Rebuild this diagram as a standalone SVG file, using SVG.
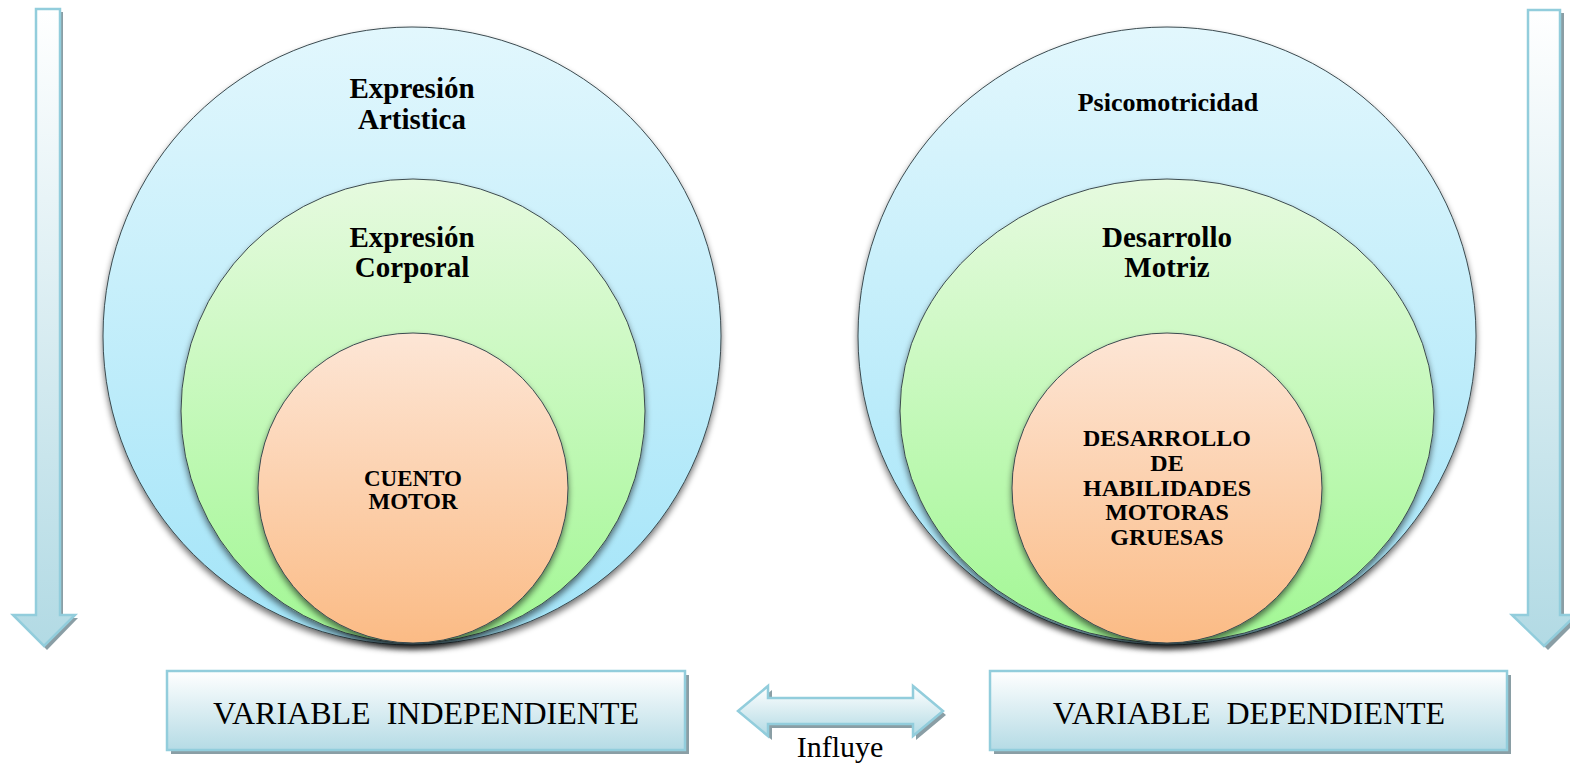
<svg xmlns="http://www.w3.org/2000/svg" width="1570" height="765" viewBox="0 0 1570 765">
<style>
.big{font-family:"Liberation Serif","Times New Roman",serif;font-weight:bold;font-size:29px;fill:#000;text-anchor:middle}
.mid{font-family:"Liberation Serif","Times New Roman",serif;font-weight:bold;font-size:24px;fill:#000;text-anchor:middle}
.lbl{font-family:"Liberation Serif","Times New Roman",serif;font-size:32px;fill:#000;text-anchor:middle}
.ring{stroke:#3b4a4f;stroke-width:1}
.frame{fill:url(#gBox);stroke:#92cddc;stroke-width:2.5}
.arr{fill:url(#gArr);stroke:#92cddc;stroke-width:2.5}
.shd{fill:#8a9ea5}
</style>
<defs>
<linearGradient id="gBlue" x1="0" y1="0" x2="0" y2="1"><stop offset="0" stop-color="#e2f7fd"/><stop offset="1" stop-color="#a2e4f8"/></linearGradient>
<linearGradient id="gGreen" x1="0" y1="0" x2="0" y2="1"><stop offset="0" stop-color="#e6fadf"/><stop offset="1" stop-color="#a2f794"/></linearGradient>
<linearGradient id="gOrange" x1="0" y1="0" x2="0" y2="1"><stop offset="0" stop-color="#fde6d6"/><stop offset="1" stop-color="#fbbb85"/></linearGradient>
<linearGradient id="gArr" x1="0" y1="0" x2="0" y2="1"><stop offset="0" stop-color="#ffffff"/><stop offset="1" stop-color="#b2dae4"/></linearGradient>
<linearGradient id="gBox" x1="0" y1="0" x2="0" y2="1"><stop offset="0" stop-color="#ffffff"/><stop offset="1" stop-color="#b5dbe5"/></linearGradient>
<filter id="sh" x="-10%" y="-10%" width="120%" height="125%"><feGaussianBlur in="SourceAlpha" stdDeviation="3"/><feOffset dx="0" dy="4" result="b"/><feComponentTransfer><feFuncA type="linear" slope="0.55"/></feComponentTransfer><feMerge><feMergeNode/><feMergeNode in="SourceGraphic"/></feMerge></filter>
</defs>

<g id="arrow-left">
<path class="shd" d="M40,12 H63 V618 H78 L47,650 L16,618 H40 Z"/>
<path class="arr" d="M36,9 H60 V615 H75 L44,646 L13,615 H36 Z"/>
</g>
<g id="arrow-right">
<path class="shd" d="M1532,13 H1564 V618 H1580 L1548,650 L1516,618 H1532 Z"/>
<path class="arr" d="M1528,10 H1560 V615 H1576 L1544,646 L1512,615 H1528 Z"/>
</g>

<g id="left-outer">
<circle class="ring" cx="412" cy="336" r="309" fill="url(#gBlue)" filter="url(#sh)"/>
<text class="big" x="412" y="98">Expresión</text>
<text class="big" x="412" y="129">Artistica</text>
</g>
<g id="left-mid">
<circle class="ring" cx="413" cy="411" r="232" fill="url(#gGreen)" filter="url(#sh)"/>
<text class="big" x="412" y="247">Expresión</text>
<text class="big" x="412" y="277">Corporal</text>
</g>
<g id="left-inner">
<circle class="ring" cx="413" cy="488" r="155" fill="url(#gOrange)" filter="url(#sh)"/>
<text class="mid" x="413" y="486" style="font-size:23px">CUENTO</text>
<text class="mid" x="413" y="509" style="font-size:23px">MOTOR</text>
</g>

<g id="right-outer">
<circle class="ring" cx="1167" cy="336" r="309" fill="url(#gBlue)" filter="url(#sh)"/>
<text class="mid" x="1168" y="111" style="font-size:26px">Psicomotricidad</text>
</g>
<g id="right-mid">
<ellipse class="ring" cx="1167" cy="411" rx="267" ry="232" fill="url(#gGreen)" filter="url(#sh)"/>
<text class="big" x="1167" y="247">Desarrollo</text>
<text class="big" x="1167" y="277">Motriz</text>
</g>
<g id="right-inner">
<circle class="ring" cx="1167" cy="488" r="155" fill="url(#gOrange)" filter="url(#sh)"/>
<text class="mid" x="1167" y="446">DESARROLLO</text>
<text class="mid" x="1167" y="471">DE</text>
<text class="mid" x="1167" y="496">HABILIDADES</text>
<text class="mid" x="1167" y="520">MOTORAS</text>
<text class="mid" x="1167" y="545">GRUESAS</text>
</g>

<g id="box-independiente">
<rect class="shd" x="171" y="675" width="518" height="79"/>
<rect class="frame" x="167" y="671" width="518" height="79"/>
<text class="lbl" x="426" y="724" xml:space="preserve">VARIABLE  INDEPENDIENTE</text>
</g>
<g id="box-dependiente">
<rect class="shd" x="994" y="675" width="517" height="79"/>
<rect class="frame" x="990" y="671" width="517" height="79"/>
<text class="lbl" x="1249" y="724" xml:space="preserve">VARIABLE  DEPENDIENTE</text>
</g>

<g id="connectors">
<path class="shd" d="M742,715 L772,690 V702 H916 V690 L946,715 L916,740 V728 H772 V740 Z"/>
<path class="arr" d="M738,711 L768,686 V698 H913 V686 L943,711 L913,736 V724 H768 V736 Z"/>
<text class="lbl" x="840" y="757" style="font-size:30px">Influye</text>
</g>
</svg>
